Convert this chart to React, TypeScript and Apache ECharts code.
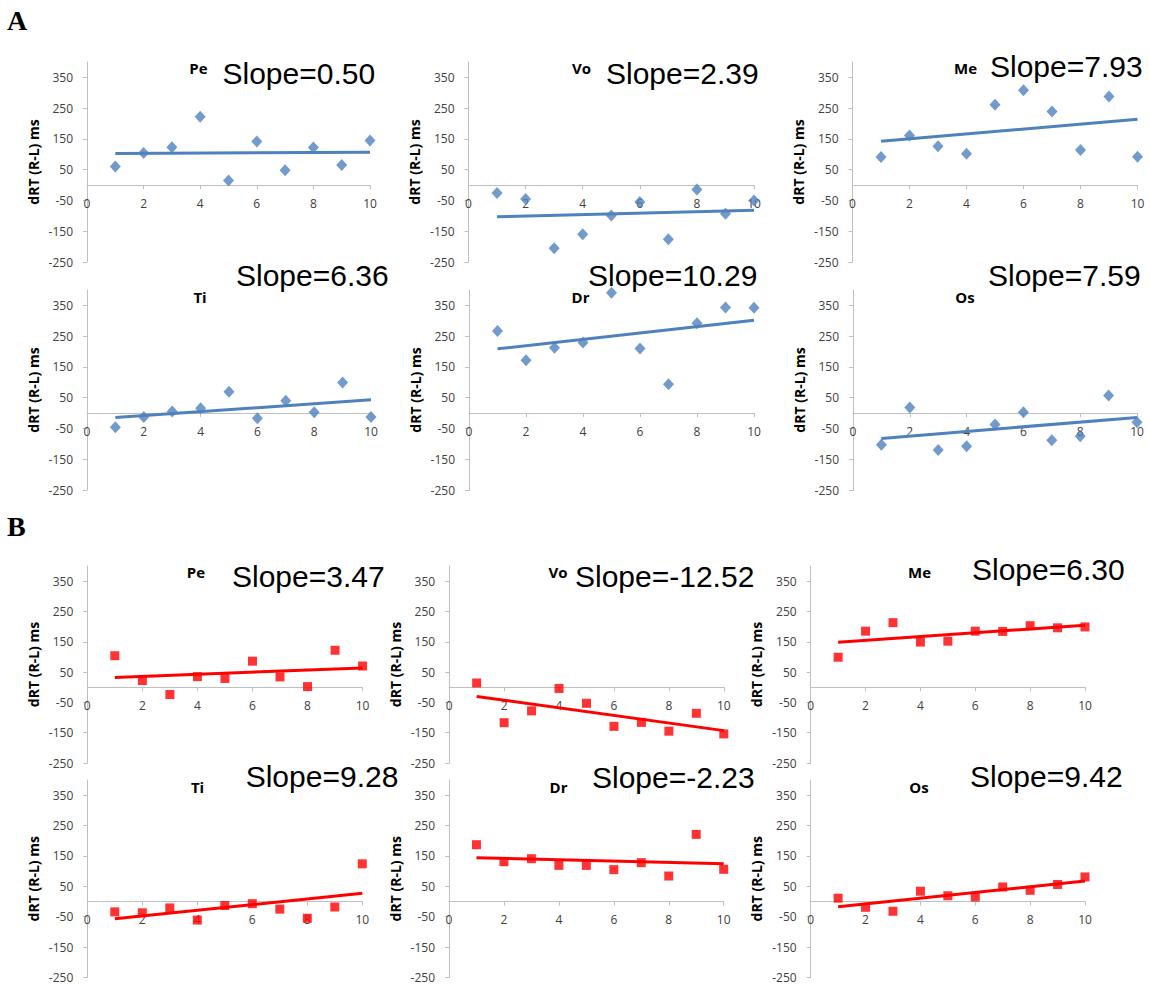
import React, { useEffect, useRef } from "react";
import * as echarts from "echarts";

// ---------- data ----------
const xValues = [1, 2, 3, 4, 5, 6, 7, 8, 9, 10];
const yTickValues = [-250, -150, -50, 50, 150, 250, 350];
const panelNames = ["Pe", "Vo", "Me", "Ti", "Dr", "Os"];
const Y_MIN = -250;
const Y_MAX = 400;

// Section A (blue diamonds)
const aPe = [60, 104, 123, 222, 15, 142, 48, 122, 65, 145];
const aVo = [-26, -45, -205, -160, -99, -55, -176, -14, -93, -50];
const aMe = [91, 161, 126, 102, 261, 308, 239, 114, 288, 92];
const aTi = [-46, -13, 5, 16, 69, -17, 40, 3, 99, -13];
const aDr = [267, 172, 212, 229, 391, 210, 94, 292, 343, 342];
const aOs = [-103, 18, -120, -108, -37, 3, -88, -75, 57, -30];
const slopesA = [0.5, 2.39, 7.93, 6.36, 10.29, 7.59];

// Section B (red squares)
const bPe = [104, 22, -24, 35, 29, 86, 34, 2, 122, 70];
const bVo = [14, -117, -78, -4, -53, -129, -116, -145, -86, -154];
const bMe = [99, 185, 213, 149, 152, 185, 184, 203, 196, 199];
const bTi = [-34, -37, -21, -61, -13, -7, -25, -55, -18, 124];
const bDr = [187, 131, 141, 119, 119, 105, 128, 84, 221, 106];
const bOs = [11, -19, -32, 34, 19, 15, 48, 37, 56, 81];
const slopesB = [3.47, -12.52, 6.3, 9.28, -2.23, 9.42];

const seriesA = [aPe, aVo, aMe, aTi, aDr, aOs];
const seriesB = [bPe, bVo, bMe, bTi, bDr, bOs];

// ---------- layout (pixels) ----------
const gridA = [
  { left: 87, top: 62, width: 283, height: 200 },
  { left: 468.5, top: 62, width: 285.5, height: 200 },
  { left: 852.5, top: 62, width: 285, height: 200 },
  { left: 87, top: 290, width: 284, height: 200 },
  { left: 469, top: 290, width: 285, height: 200 },
  { left: 853, top: 290, width: 284, height: 200 },
];
const gridB = [
  { left: 87.3, top: 566, width: 275.3, height: 197 },
  { left: 449.2, top: 566, width: 274.6, height: 197 },
  { left: 810.7, top: 566, width: 274.3, height: 197 },
  { left: 87.3, top: 780, width: 275, height: 197.5 },
  { left: 449, top: 780, width: 274.7, height: 197.5 },
  { left: 810.7, top: 780, width: 274.3, height: 197.5 },
];
const nameAPos = [
  [198.5, 68], [581.5, 68], [965.5, 68], [200, 297], [580.5, 297], [965, 297],
];
const nameBPos = [
  [196, 572], [558, 572], [919.5, 572], [197.5, 787], [558.5, 787], [919, 787],
];
const slopeAPos = [
  [222.5, 73.3], [606, 73], [990, 66.5], [236, 275], [588, 275], [988, 275],
];
const slopeBPos = [
  [232, 576.7], [575, 576], [972, 569], [245.7, 776], [592, 777], [970, 776.7],
];

const BLUE = "#4F81BD";
const RED = "#FF0000";
const AXIS_GREY = "#BFBFBF";
const LABEL_COLOR = "#404040";

function trend(ys: number[], slope: number): number[][] {
  const mx = xValues.reduce((a, b) => a + b, 0) / xValues.length;
  const my = ys.reduce((a, b) => a + b, 0) / ys.length;
  const b0 = my - slope * mx;
  const x0 = xValues[0];
  const x1 = xValues[xValues.length - 1];
  return [
    [x0, b0 + slope * x0],
    [x1, b0 + slope * x1],
  ];
}

function txt(x: number, y: number, text: string, font: any, align: string) {
  return {
    type: "text",
    x,
    y,
    silent: true,
    style: {
      text,
      fill: "#000",
      fontFamily: font.family,
      fontSize: font.size,
      fontWeight: font.weight,
      align,
      verticalAlign: "middle",
      textAlign: align,
      textVerticalAlign: "middle",
    },
  };
}

export default function App() {
  const ref = useRef<HTMLDivElement>(null);

  useEffect(() => {
    if (!ref.current) return;
    const chart = echarts.init(ref.current, undefined, { renderer: "svg" });

    const grids: any[] = [];
    const xAxes: any[] = [];
    const yAxes: any[] = [];
    const series: any[] = [];
    const graphics: any[] = [];

    const addPanel = (
      g: any,
      ys: number[],
      slope: number,
      color: string,
      symbol: string,
      symbolSize: any
    ) => {
      const i = grids.length;
      grids.push({ ...g, containLabel: false, outerBoundsMode: "none" });
      // place the x axis where y = 0 (Excel style crossing)
      const zeroOffset = (g.height * (0 - Y_MIN)) / (Y_MAX - Y_MIN);
      xAxes.push({
        type: "value",
        gridIndex: i,
        min: 0,
        max: 10,
        interval: 2,
        position: "bottom",
        offset: -zeroOffset,
        axisLine: { show: true, onZero: false, lineStyle: { color: AXIS_GREY, width: 1 } },
        axisTick: { show: true, length: 4, lineStyle: { color: AXIS_GREY } },
        axisLabel: {
          color: LABEL_COLOR,
          fontFamily: "Open Sans",
          fontSize: 12,
          margin: 12,
        },
        splitLine: { show: false },
      });
      yAxes.push({
        type: "value",
        gridIndex: i,
        min: Y_MIN,
        max: Y_MAX,
        axisLine: { show: true, onZero: false, lineStyle: { color: AXIS_GREY, width: 1 } },
        axisTick: {
          show: true,
          length: 4,
          customValues: yTickValues,
          lineStyle: { color: AXIS_GREY },
        },
        axisLabel: {
          customValues: yTickValues,
          color: LABEL_COLOR,
          fontFamily: "Open Sans",
          fontSize: 12,
          margin: 14,
        },
        splitLine: { show: false },
        name: "dRT (R-L) ms",
        nameLocation: "middle",
        nameGap: 47,
        nameTextStyle: {
          fontFamily: "Open Sans",
          fontWeight: "bold",
          fontSize: 14,
          color: "#000",
        },
      });
      series.push({
        type: "scatter",
        xAxisIndex: i,
        yAxisIndex: i,
        symbol,
        symbolSize,
        itemStyle: { color },
        data: xValues.map((x, k) => [x, ys[k]]),
        z: 2,
      });
      series.push({
        type: "line",
        xAxisIndex: i,
        yAxisIndex: i,
        showSymbol: false,
        symbol: "none",
        lineStyle: { color, width: 3 },
        data: trend(ys, slope),
        z: 3,
      });
    };

    seriesA.forEach((ys, k) => {
      addPanel(gridA[k], ys, slopesA[k], BLUE, "diamond", [11, 12]);
    });
    seriesB.forEach((ys, k) => {
      addPanel(gridB[k], ys, slopesB[k], RED, "rect", 9);
    });

    const nameFont = { family: "Open Sans", size: 15, weight: "bold" };
    const slopeFont = { family: "Liberation Sans, Arial", size: 30, weight: "normal" };
    const fmt = (s: number) => "Slope=" + s.toFixed(2);

    panelNames.forEach((n, k) => {
      graphics.push(txt(nameAPos[k][0], nameAPos[k][1], n, nameFont, "center"));
      graphics.push(txt(nameBPos[k][0], nameBPos[k][1], n, nameFont, "center"));
      graphics.push(txt(slopeAPos[k][0], slopeAPos[k][1], fmt(slopesA[k]), slopeFont, "left"));
      graphics.push(txt(slopeBPos[k][0], slopeBPos[k][1], fmt(slopesB[k]), slopeFont, "left"));
    });
    const secFont = { family: "Liberation Serif, Times New Roman", size: 28, weight: "bold" };
    graphics.push(txt(7, 20, "A", secFont, "left"));
    graphics.push(txt(7, 526, "B", secFont, "left"));

    chart.setOption({
      animation: false,
      backgroundColor: "#fff",
      grid: grids,
      xAxis: xAxes,
      yAxis: yAxes,
      series,
      graphic: { elements: graphics },
    });

    return () => chart.dispose();
  }, []);

  return (
    <div
      ref={ref}
      style={{ position: "absolute", left: 0, top: 0, width: 1150, height: 986 }}
    />
  );
}
